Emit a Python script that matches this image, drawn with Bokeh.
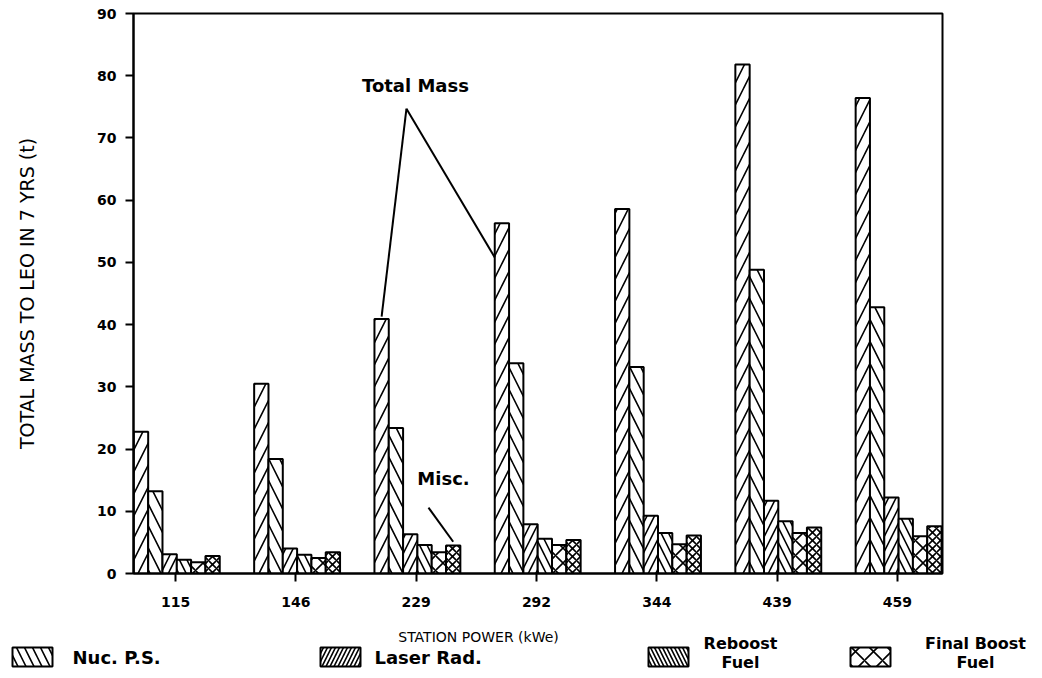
from bokeh.plotting import figure
from bokeh.models import ColumnDataSource, Range1d, FixedTicker
from bokeh.transform import dodge
from bokeh.layouts import column
from bokeh.core.properties import value
from bokeh.embed import file_html
from bokeh.resources import INLINE

# ---------------- data ----------------
stations = ["115", "146", "229", "292", "344", "439", "459"]
total_mass = [22.8, 30.5, 40.9, 56.3, 58.6, 81.8, 76.4]
nuc_ps = [13.2, 18.4, 23.4, 33.8, 33.2, 48.8, 42.8]
laser_rad = [3.1, 4.0, 6.3, 7.9, 9.3, 11.7, 12.2]
reboost_fuel = [2.2, 3.0, 4.6, 5.6, 6.5, 8.4, 8.8]
final_boost_fuel = [1.8, 2.5, 3.4, 4.6, 4.7, 6.5, 6.0]
misc = [2.8, 3.4, 4.5, 5.4, 6.1, 7.4, 7.6]
y_ticks = [0, 10, 20, 30, 40, 50, 60, 70, 80, 90]

legend_names = ["Nuc. P.S.", "Laser Rad.", "Reboost\nFuel", "Final Boost\nFuel"]
x_title = "STATION POWER (kWe)"
y_title = "TOTAL MASS TO LEO IN 7 YRS (t)"

FONT_NAME = "DejaVu Sans"
FONT = value(FONT_NAME)
W = 0.119

src = ColumnDataSource(dict(
    x=list(range(len(stations))),
    total=total_mass, nuc=nuc_ps, laser=laser_rad,
    reboost=reboost_fuel, final=final_boost_fuel, misc=misc,
))

series = [
    ("total", "/", 22),
    ("nuc", "\\", 22),
    ("laser", "/", 15),
    ("reboost", "\\", 15),
    ("final", "x", 15),
    ("misc", "x", 8),
]

MAIN_H = 624
p = figure(width=1042, height=MAIN_H,
           x_range=Range1d(-0.35, 6.375), y_range=Range1d(0, 90),
           output_backend="svg", toolbar_location=None,
           min_border_left=133, min_border_right=100,
           min_border_top=13, min_border_bottom=MAIN_H - 573)
p.background_fill_color = "white"
p.border_fill_color = "white"
p.outline_line_color = "black"
p.outline_line_width = 2
p.xgrid.visible = False
p.ygrid.visible = False

offsets = [(k - 2.5) * W + 0.01 for k in range(len(series))]
for k, (key, pat, sc) in enumerate(series):
    p.vbar(x=dodge("x", offsets[k], range=p.x_range), top=key, width=W,
           source=src, fill_color="white", line_color="black", line_width=2,
           hatch_pattern=pat, hatch_scale=sc, hatch_weight=1.6,
           hatch_color="black")

xa = p.xaxis[0]
xa.ticker = FixedTicker(ticks=list(range(len(stations))))
xa.major_label_overrides = {i: s for i, s in enumerate(stations)}
ya = p.yaxis[0]
ya.ticker = FixedTicker(ticks=y_ticks)
ya.axis_label = y_title
ya.axis_label_text_font = FONT_NAME
ya.axis_label_text_font_style = "normal"
ya.axis_label_text_font_size = "19px"
ya.axis_label_text_color = "black"
ya.axis_label_standoff = 56
for ax in (xa, ya):
    ax.axis_line_width = 2
    ax.axis_line_color = "black"
    ax.major_tick_line_width = 2
    ax.major_tick_line_color = "black"
    ax.major_tick_out = 8
    ax.major_tick_in = 0
    ax.minor_tick_out = 0
    ax.minor_tick_in = 0
    ax.major_label_text_font = FONT_NAME
    ax.major_label_text_font_style = "bold"
    ax.major_label_text_font_size = "14px"
    ax.major_label_text_color = "black"
xa.major_label_standoff = 15
ya.major_label_standoff = 9

# annotations
conv = (1.919, 74.7)
p.text(x=[1.994], y=[78.4], text=["Total Mass"], text_font=FONT,
       text_font_style="bold", text_font_size="18px",
       text_align="center", text_baseline="middle", text_color="black")
p.segment(x0=[conv[0], conv[0]], y0=[conv[1], conv[1]],
          x1=[2 + offsets[0], 3 + offsets[0] - W / 2],
          y1=[total_mass[2] + 0.4, total_mass[3] - 5.5],
          line_color="black", line_width=2)
p.text(x=[2.227], y=[15.3], text=["Misc."], text_font=FONT,
       text_font_style="bold", text_font_size="18px",
       text_align="center", text_baseline="middle", text_color="black")
p.segment(x0=[2.102], y0=[10.6], x1=[2 + offsets[5]], y1=[misc[2] + 0.6],
          line_color="black", line_width=2)

# ---------------- legend row ----------------
LEG_H = 53
lp = figure(width=1042, height=LEG_H, x_range=Range1d(0, 1042),
            y_range=Range1d(0, LEG_H),
            output_backend="svg", toolbar_location=None,
            min_border_left=0, min_border_right=0,
            min_border_top=0, min_border_bottom=0)
lp.axis.visible = False
lp.xgrid.visible = False
lp.ygrid.visible = False
lp.outline_line_color = None
lp.background_fill_color = "white"
lp.border_fill_color = "white"
for fig in (p, lp):
    if "frame_align" in fig.properties():
        fig.frame_align = False

TOP = MAIN_H + LEG_H  # legend y = TOP - image_y


def ly(img_y):
    return TOP - img_y


box_left = [12, 320, 648, 850]
box_w = 40
leg_pats = ["\\", "/", "\\", "x"]
leg_scales = [16, 8, 8, 18]
for i in range(4):
    lp.quad(left=[box_left[i]], right=[box_left[i] + box_w],
            bottom=[ly(666)], top=[ly(647)],
            fill_color="white", line_color="black", line_width=2,
            hatch_pattern=leg_pats[i], hatch_scale=leg_scales[i],
            hatch_weight=1.6, hatch_color="black")

lp.text(x=[72, 374], y=[ly(657), ly(657)], text=legend_names[:2], text_font=FONT,
        text_font_style="bold", text_font_size="18px",
        text_align="left", text_baseline="middle", text_color="black")
lp.text(x=[740, 975], y=[ly(652), ly(652)], text=legend_names[2:], text_font=FONT,
        text_font_style="bold", text_font_size="16px", text_line_height=1.0,
        text_align="center", text_baseline="middle", text_color="black")
lp.text(x=[478], y=[ly(636)], text=[x_title], text_font=FONT,
        text_font_style="normal", text_font_size="14px",
        text_align="center", text_baseline="middle", text_color="black")

layout = column(p, lp, spacing=0)
open("out.html", "w").write(file_html(layout, INLINE))
